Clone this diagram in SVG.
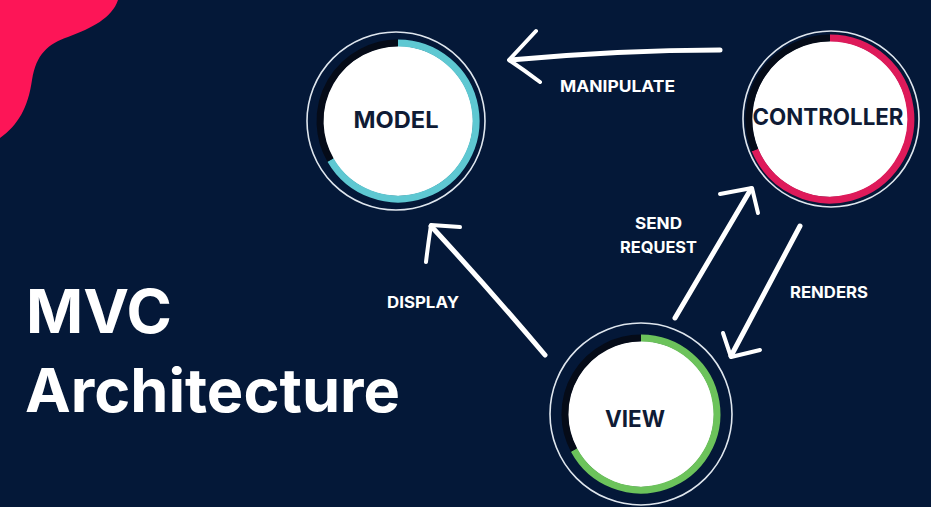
<svg xmlns="http://www.w3.org/2000/svg" width="931" height="507" viewBox="0 0 931 507">
<style>
.bg{fill:#041838}
.outer{fill:none;stroke:#dfe6ee;stroke-width:1.6}
.disc{fill:#ffffff}
.dark{fill:none;stroke:#050b18;stroke-width:7}
.node-text{font-family:Inter,"Liberation Sans",sans-serif;font-weight:700;fill:#0f1b35;text-anchor:middle}
.label{font-family:Inter,"Liberation Sans",sans-serif;font-weight:700;fill:#ffffff;font-size:16px}
.title{font-family:Inter,"Liberation Sans",sans-serif;font-weight:700;fill:#ffffff;font-size:60px}
.arrow{fill:none;stroke:#ffffff;stroke-width:5;stroke-linecap:round;stroke-linejoin:round}
.head{fill:none;stroke:#ffffff;stroke-width:4;stroke-linecap:round;stroke-linejoin:round}
</style>
<rect class="bg" x="0" y="0" width="931" height="507"/>
<path d="M0 0 L118 0 C112 18 92 28 68 37 C48 44 36 54 32 80 C28 108 18 125 0 138 Z" fill="#fd1557"/>

<g id="title">
<text class="title" x="26" y="333" textLength="146" lengthAdjust="spacingAndGlyphs">MVC</text>
<text class="title" x="25" y="412" textLength="375" lengthAdjust="spacingAndGlyphs">Architecture</text>
</g>

<g id="model">
<circle class="outer" cx="396" cy="121" r="89"/>
<circle class="disc" cx="398" cy="121" r="75"/>
<path d="M398 43 A78 78 0 1 1 330.5 160" fill="none" stroke="#5ec8d2" stroke-width="7"/>
<path class="dark" d="M330.5 160 A78 78 0 0 1 398 43"/>
<text class="node-text" x="396" y="128" font-size="23" textLength="85" lengthAdjust="spacingAndGlyphs">MODEL</text>
</g>

<g id="controller">
<circle class="outer" cx="831" cy="119" r="88"/>
<circle class="disc" cx="830" cy="119" r="78"/>
<path d="M830 38 A81 81 0 1 1 755 150" fill="none" stroke="#de1a5a" stroke-width="7"/>
<path class="dark" d="M755 150 A81 81 0 0 1 830 38"/>
<text class="node-text" x="828" y="125" font-size="23" textLength="151" lengthAdjust="spacingAndGlyphs">CONTROLLER</text>
</g>

<g id="view">
<circle class="outer" cx="641" cy="414" r="91"/>
<circle class="disc" cx="641" cy="414" r="73"/>
<path d="M641 338 A76 76 0 1 1 574 450" fill="none" stroke="#6cc35b" stroke-width="7"/>
<path class="dark" d="M574 450 A76 76 0 0 1 641 338"/>
<text class="node-text" x="635" y="427" font-size="23" textLength="60" lengthAdjust="spacingAndGlyphs">VIEW</text>
</g>

<g id="connectors">
<path class="arrow" d="M720 50 Q620 50 510 60"/>
<path class="head" d="M536 31 Q522 46 509 60 Q524 70 540 82"/>
<path class="arrow" d="M545 355 Q490 290 431 226"/>
<path class="head" d="M460 227 L431 225 Q428 245 426 262"/>
<path class="arrow" d="M675 318 L751 189"/>
<path class="head" d="M720 194 L752 188 L758 213"/>
<path class="arrow" d="M800 226 L731 356"/>
<path class="head" d="M723 333 L731 357 L760 350"/>
</g>

<g id="labels">
<text class="label" x="560" y="92" textLength="115" lengthAdjust="spacingAndGlyphs">MANIPULATE</text>
<text class="label" x="387" y="308" textLength="72" lengthAdjust="spacingAndGlyphs">DISPLAY</text>
<text class="label" x="635" y="229" textLength="47" lengthAdjust="spacingAndGlyphs">SEND</text>
<text class="label" x="620" y="253" textLength="77" lengthAdjust="spacingAndGlyphs">REQUEST</text>
<text class="label" x="790" y="298" textLength="78" lengthAdjust="spacingAndGlyphs">RENDERS</text>
</g>
</svg>
